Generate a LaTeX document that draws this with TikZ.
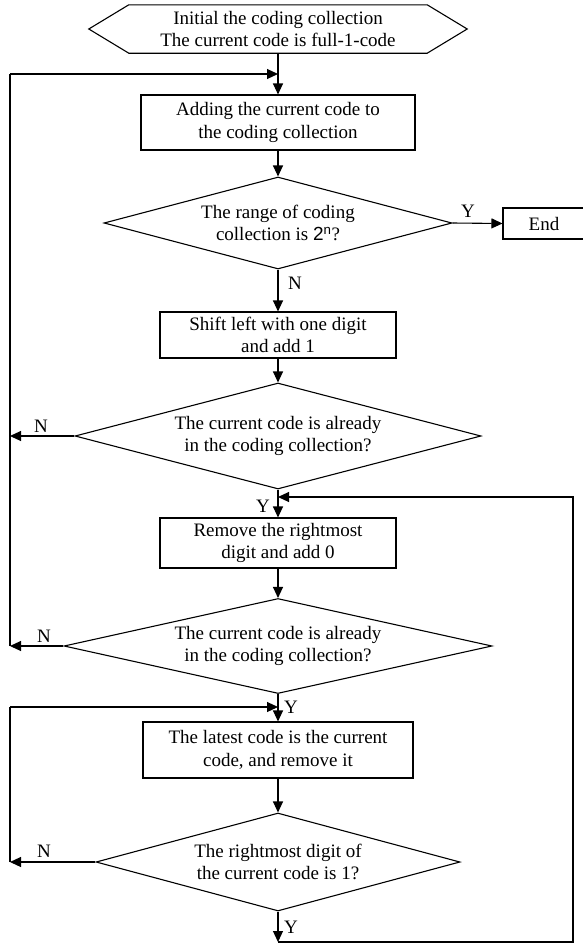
\documentclass[tikz,border=0pt]{standalone}
\usepackage{fontspec}
\setmainfont{Liberation Serif}
\newfontfamily\sansf{Liberation Sans}
\usetikzlibrary{shapes.geometric,arrows.meta}
\begin{document}
\begin{tikzpicture}[x=1pt,y=-1pt,
  every node/.style={font=\fontsize{19}{22.5}\selectfont},
  proc/.style={draw, line width=1.1pt, inner sep=0pt, align=center},
  decision/.style={draw, diamond, line width=1.1pt, inner sep=0pt},
  txt/.style={align=center, inner sep=0pt},
  lbl/.style={inner sep=0pt},
  flow/.style={line width=1.1pt, -{Triangle[length=11pt,width=10pt]}},
  link/.style={line width=1.1pt}]
\useasboundingbox (0,0) rectangle (583,945);

% start: hexagonal terminator
\node[txt, minimum width=298pt, minimum height=48pt] (start) at (278,29)
  {Initial the coding collection\\The current code is full-1-code};
\draw[link] (start.north west) -- (start.north east) -- ([xshift=40pt]start.east)
  -- (start.south east) -- (start.south west) -- ([xshift=-40pt]start.west) -- cycle;

% process boxes
\node[proc, minimum width=274pt, minimum height=55pt] (box1) at (278,122.5)
  {Adding the current code to\\the coding collection};
\node[proc, minimum width=236pt, minimum height=46pt] (box2) at (278,335)
  {Shift left with one digit\\and add 1};
\node[proc, minimum width=236pt, minimum height=50pt] (box3) at (278,543)
  {Remove the rightmost\\digit and add 0};
\node[proc, minimum width=270pt, minimum height=56pt] (box4) at (278,750)
  {The latest code is the current\\code, and remove it};
\node[proc, minimum width=82pt, minimum height=31pt] (end) at (544,223.5) {End};

% decisions
\node[decision, minimum width=348pt, minimum height=92pt] (d1) at (278,223) {};
\node[txt] at (d1) {The range of coding\\collection is {\sansf 2\textsuperscript{n}}?};
\node[decision, minimum width=406pt, minimum height=106pt] (d2) at (278,436) {};
\node[txt] at (d2) {The current code is already\\in the coding collection?};
\node[decision, minimum width=428pt, minimum height=95pt] (d3) at (278,646) {};
\node[txt] at (d3) {The current code is already\\in the coding collection?};
\node[decision, minimum width=364pt, minimum height=98pt] (d5) at (278,862) {};
\node[txt] at (d5) {The rightmost digit of\\the current code is 1?};

% junction points
\coordinate (L1) at (10,74);   \coordinate (in1) at (278,74);
\coordinate (L2) at (10,436);
\coordinate (L3) at (10,646);
\coordinate (L4) at (10,707);  \coordinate (in4) at (278,707);
\coordinate (L5) at (10,862);
\coordinate (in3) at (278,497);
\coordinate (bot) at (278,942);
\coordinate (botR) at (573,942);
\coordinate (topR) at (573,497);

% main flow
\draw[flow] (start.south) -- (box1.north);
\draw[flow] (box1.south) -- (d1.north);
\draw[flow] (d1.east) -- (end.west);
\draw[flow] (d1.south) -- (box2.north);
\draw[flow] (box2.south) -- (d2.north);
\draw[flow] (d2.south) -- (box3.north);
\draw[flow] (box3.south) -- (d3.north);
\draw[flow] (d3.south) -- (box4.north);
\draw[flow] (box4.south) -- (d5.north);
\draw[flow] (d5.south) -- (bot);

% loops
\draw[flow] (d2.west) -- (L2);
\draw[flow] (d3.west) -- (L3);
\draw[link] (L3) -- (L1);
\draw[flow] (L1) -- (in1);
\draw[flow] (d5.west) -- (L5);
\draw[link] (L5) -- (L4);
\draw[flow] (L4) -- (in4);
\draw[flow] (bot) -- (botR) -- (topR) -- (in3);

% branch labels
\node[lbl] at (468,211) {Y};
\node[lbl] at (295,283) {N};
\node[lbl] at (41,426) {N};
\node[lbl] at (263,506) {Y};
\node[lbl] at (44,636) {N};
\node[lbl] at (291,707) {Y};
\node[lbl] at (44,851) {N};
\node[lbl] at (291,927) {Y};
\end{tikzpicture}
\end{document}
